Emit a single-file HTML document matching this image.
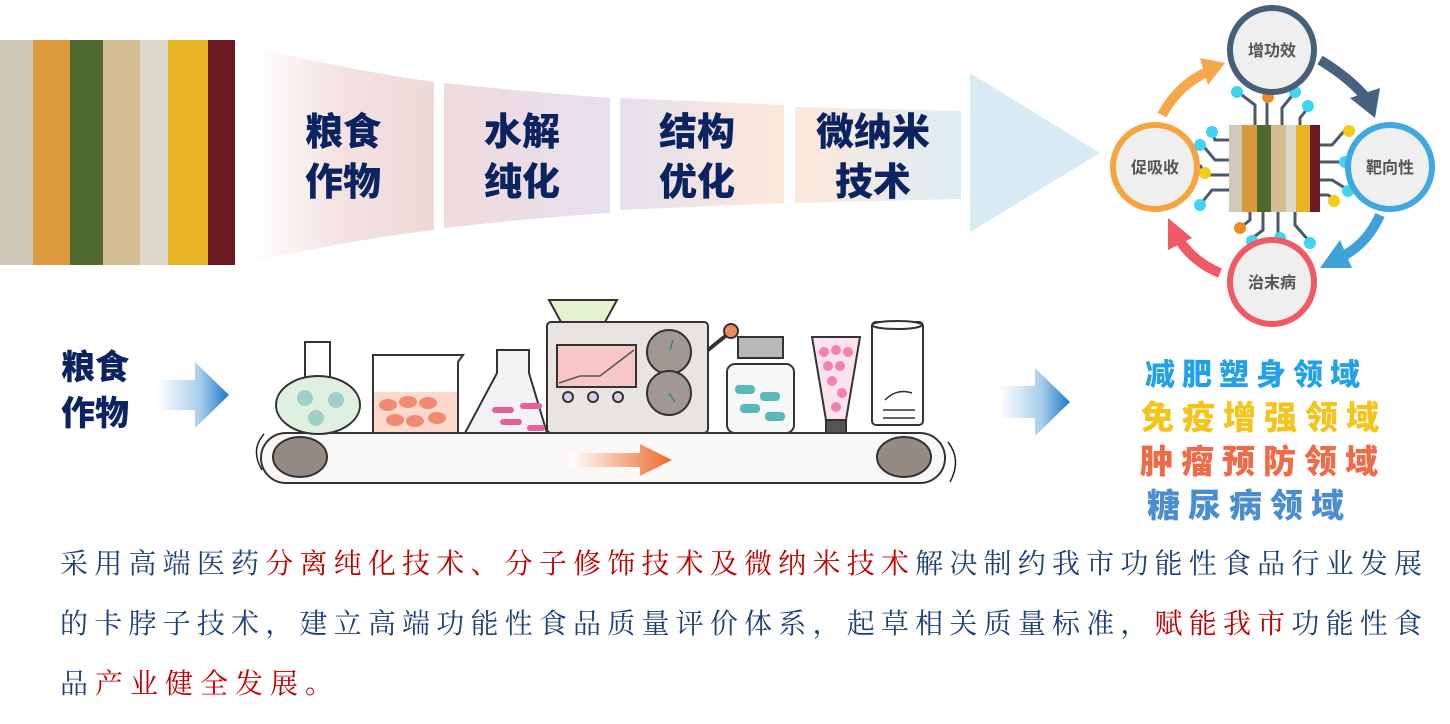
<!DOCTYPE html>
<html><head><meta charset="utf-8"><style>
body{margin:0;width:1450px;height:724px;background:#fff;overflow:hidden;position:relative;font-family:"Liberation Sans","Noto Sans CJK SC",sans-serif}
.ab{position:absolute}
.band{font-family:"Liberation Sans","Noto Sans CJK SC",sans-serif;font-weight:900;color:#0b2360;font-size:38px;line-height:50px;text-align:center;position:absolute}
.para{position:absolute;left:60px;width:1362px;font-family:"Liberation Serif","Noto Serif CJK SC",serif;font-size:28px;color:#1d3f78;text-align:justify;text-align-last:justify;white-space:nowrap;line-height:40px}
.r{color:#c00000}
.fld{position:absolute;font-weight:900;font-family:"Liberation Sans","Noto Sans CJK SC",sans-serif;white-space:nowrap}
</style></head><body>
<svg class="ab" style="left:0;top:0" width="1450" height="724">
<defs>
<linearGradient id="s1" x1="0" x2="1"><stop offset="0" stop-color="#fff"/><stop offset=".5" stop-color="#f4e2e2"/><stop offset="1" stop-color="#eed8d8"/></linearGradient>
<linearGradient id="s2" x1="0" x2="1"><stop offset="0" stop-color="#f0dadc"/><stop offset="1" stop-color="#e6e0ee"/></linearGradient>
<linearGradient id="s3" x1="0" x2="1"><stop offset="0" stop-color="#e4e0ee"/><stop offset="1" stop-color="#fde8da"/></linearGradient>
<linearGradient id="s4" x1="0" x2="1"><stop offset="0" stop-color="#fde8da"/><stop offset="1" stop-color="#dcecf4"/></linearGradient>
<linearGradient id="ar2" x1="0" x2="1"><stop offset="0" stop-color="#fff"/><stop offset=".6" stop-color="#a8cdea"/><stop offset="1" stop-color="#1a78c8"/></linearGradient>
<linearGradient id="oa2" x1="0" x2="1"><stop offset="0" stop-color="#fff"/><stop offset="1" stop-color="#ec6a2a"/></linearGradient>
</defs>
<!-- grains -->
<rect x="0" y="40" width="33" height="225" fill="#cfc7b8"/>
<rect x="33" y="40" width="37" height="225" fill="#dc9a3e"/>
<rect x="70" y="40" width="33" height="225" fill="#4e6a2e"/>
<rect x="103" y="40" width="37" height="225" fill="#d4bf94"/>
<rect x="140" y="40" width="28" height="225" fill="#ddd8cc"/>
<rect x="168" y="40" width="40" height="225" fill="#e6b424"/>
<rect x="208" y="40" width="27" height="225" fill="#6c1a22"/>
<!-- bands -->
<path d="M250 47 Q350 70 434 82 L434 230 Q350 240 250 262Z" fill="url(#s1)"/>
<path d="M444 83 Q530 92 610 98 L610 213 Q530 218 444 228Z" fill="url(#s2)"/>
<path d="M620 98 L784 105 L784 203 L620 210Z" fill="url(#s3)"/>
<path d="M795 107 L961 111 L961 199 L795 203Z" fill="url(#s4)"/>
<path d="M970 73 L1100 153 L970 232Z" fill="#d8eaf3"/>

<!-- conveyor row -->
<path d="M157 380 L195 380 L195 362 L229 395 L195 428 L195 410 L157 410Z" fill="url(#ar2)"/>
<path d="M999 386 L1035 386 L1035 368 L1070 402 L1035 436 L1035 418 L999 418Z" fill="url(#ar2)"/>
<g stroke="#333" stroke-width="2">
<rect x="261" y="433" width="684" height="50" rx="25" fill="#f9f8f7"/>
<ellipse cx="300" cy="457" rx="27" ry="20" fill="#958b85"/><ellipse cx="904" cy="457" rx="27" ry="20" fill="#958b85"/>
<!-- round flask -->
<rect x="305" y="342" width="25" height="40" fill="#fff"/>
<ellipse cx="318" cy="405" rx="42" ry="29" fill="#e0f0e0"/>
<!-- beaker -->
<path d="M373 355 L463 355 L458 362 L458 433 L373 433Z" fill="#fff"/>
<!-- erlenmeyer -->
<path d="M497 350 L529 350 L529 373 L547 433 L465 433 L497 373Z" fill="#f4f2f4"/>
<!-- machine -->
<path d="M549 300 L617 300 L605 322 L561 322Z" fill="#e4f2d0"/>
<rect x="547" y="322" width="161" height="111" rx="4" fill="#e8e4e2"/>
<rect x="557" y="345" width="79" height="42" fill="#f8c8c8"/>
<circle cx="669" cy="352" r="22" fill="#a29893"/>
<circle cx="669" cy="393" r="22" fill="#a29893"/>
<circle cx="568" cy="397" r="5" fill="#d8d0e8"/><circle cx="593" cy="397" r="5" fill="#d8d0e8"/><circle cx="618" cy="397" r="5" fill="#d8d0e8"/>
<path d="M708 350 L728 334" stroke-width="4"/>
<circle cx="731" cy="331" r="7" fill="#f08860"/>
<!-- bottle -->
<rect x="738" y="337" width="45" height="21" fill="#b8b8b8"/>
<rect x="727" y="364" width="67" height="69" rx="8" fill="#f6f8f8"/>
<!-- tube -->
<path d="M812 337 L860 337 L846 420 L826 420Z" fill="#fbe2ec"/>
<rect x="826" y="420" width="20" height="13" fill="#555"/>
<!-- jar -->
<rect x="872" y="322" width="51" height="103" rx="4" fill="#fff"/>
<ellipse cx="897" cy="325" rx="25" ry="4" fill="#fff"/>
</g>
<rect x="374" y="392" width="83" height="40" fill="#fdd8cc"/>
<g fill="#f08a70"><ellipse cx="388" cy="405" rx="9" ry="6"/><ellipse cx="408" cy="402" rx="9" ry="6"/><ellipse cx="428" cy="403" rx="9" ry="6"/><ellipse cx="395" cy="420" rx="9" ry="6"/><ellipse cx="415" cy="421" rx="9" ry="6"/><ellipse cx="437" cy="418" rx="9" ry="6"/></g>
<g fill="#9fd0c8"><circle cx="305" cy="398" r="8"/><circle cx="336" cy="400" r="8"/><circle cx="316" cy="418" r="8"/></g>
<g fill="#e8609a"><rect x="492" y="407" width="22" height="6" rx="3"/><rect x="520" y="403" width="22" height="6" rx="3"/><rect x="500" y="419" width="22" height="6" rx="3"/><rect x="527" y="425" width="18" height="6" rx="3"/></g>
<g fill="#5ab8b8"><rect x="735" y="385" width="20" height="9" rx="4"/><rect x="760" y="392" width="20" height="9" rx="4"/><rect x="740" y="404" width="20" height="9" rx="4"/><rect x="765" y="412" width="20" height="9" rx="4"/></g>
<g fill="#f480b0"><circle cx="824" cy="352" r="5"/><circle cx="836" cy="350" r="5"/><circle cx="848" cy="352" r="5"/><circle cx="828" cy="366" r="5"/><circle cx="840" cy="366" r="5"/><circle cx="832" cy="381" r="5"/><circle cx="842" cy="393" r="5"/><circle cx="836" cy="407" r="5"/></g>
<path d="M559 383 L580 376 L600 376 L634 350" stroke="#555" stroke-width="1.5" fill="none"/>
<path d="M670 350 L673 340 M669 393 L675 402" stroke="#2a8a8a" stroke-width="1.5"/>
<path d="M885 400 Q897 388 912 393 M883 410 L915 410 M883 418 L915 418" stroke="#333" stroke-width="1.5" fill="none"/>
<path d="M570 453 L640 453 L640 444 L672 460 L640 476 L640 467 L570 467Z" fill="url(#oa2)"/>
<path d="M262 470 Q250 450 264 434" stroke="#222" stroke-width="1.5" fill="none"/>
<path d="M948 442 Q962 460 950 482" stroke="#222" stroke-width="1.5" fill="none"/>
</svg>
<div class="band" style="left:288px;top:108px;width:110px">粮食<br>作物</div>
<div class="band" style="left:467px;top:108px;width:110px">水解<br>纯化</div>
<div class="band" style="left:642px;top:108px;width:110px">结构<br>优化</div>
<div class="band" style="left:803px;top:108px;width:140px">微纳米<br>技术</div>

<!-- cycle diagram -->
<svg class="ab" style="left:1100px;top:0" width="350" height="330">
<g stroke="#4a5a66" stroke-width="3" fill="none">
<path d="M130 175 L105 175 L100 165"/><path d="M130 160 L115 160 L105 148 L100 145"/><path d="M130 190 L112 190 L100 205"/><path d="M130 140 L115 140 L112 132"/>
<path d="M220 145 L232 145 L245 130"/><path d="M220 162 L245 162"/><path d="M220 180 L232 180 L245 188"/><path d="M220 195 L228 195 L235 200"/>
<path d="M155 125 L155 105 L138 92"/><path d="M167 125 L167 97"/><path d="M182 125 L182 108 L195 92"/><path d="M200 125 L200 118 L208 108"/>
<path d="M150 212 L150 220 L140 228"/><path d="M163 212 L163 230 L150 240"/><path d="M178 212 L178 235"/><path d="M195 212 L195 225 L210 242"/>
</g>
<g fill="#3ed4f2"><circle cx="137" cy="92" r="6"/><circle cx="195" cy="92" r="6"/><circle cx="208" cy="106" r="6"/><circle cx="112" cy="132" r="6"/><circle cx="100" cy="145" r="6"/><circle cx="100" cy="205" r="6"/><circle cx="245" cy="162" r="6"/><circle cx="248" cy="191" r="6"/><circle cx="152" cy="241" r="6"/><circle cx="180" cy="238" r="6"/><circle cx="210" cy="243" r="6"/></g>
<g fill="#f4cc14"><circle cx="105" cy="173" r="6"/><circle cx="249" cy="131" r="6"/><circle cx="234" cy="201" r="6"/></g>
<g fill="#ef8a22"><circle cx="168" cy="97" r="6"/><circle cx="140" cy="228" r="6"/></g>
<rect x="129" y="125" width="13" height="87" fill="#d0c8b8"/><rect x="142" y="125" width="15" height="87" fill="#d89a3c"/><rect x="157" y="125" width="14" height="87" fill="#506a2e"/><rect x="171" y="125" width="15" height="87" fill="#d2bd92"/><rect x="186" y="125" width="10" height="87" fill="#ddd8cc"/><rect x="196" y="125" width="14" height="87" fill="#e6b424"/><rect x="210" y="125" width="10" height="87" fill="#6c1a22"/>
<path d="M62 115 Q80 82 112 70" stroke="#f5a74a" stroke-width="10" fill="none"/><path d="M100 58 L125 63 L108 85Z" fill="#f5a74a"/>
<path d="M220 60 Q250 78 268 100" stroke="#47627e" stroke-width="10" fill="none"/><path d="M250 98 L275 118 L280 88Z" fill="#47627e"/>
<path d="M280 215 Q268 242 245 255" stroke="#3ea2d8" stroke-width="10" fill="none"/><path d="M240 240 L220 268 L252 268Z" fill="#3ea2d8"/>
<path d="M120 273 Q93 262 78 238" stroke="#ee5a66" stroke-width="10" fill="none"/><path d="M68 218 L68 250 L92 238Z" fill="#ee5a66"/>
<g stroke-width="6" fill="#efefef">
<circle cx="172" cy="50" r="42" stroke="#46607a"/>
<circle cx="290" cy="167" r="42" stroke="#40a8e0"/>
<circle cx="172" cy="282" r="42" stroke="#ee5a66"/>
<circle cx="55" cy="167" r="42" stroke="#f5a440"/>
</g>
<g font-family="Liberation Sans,Noto Sans CJK SC,sans-serif" font-weight="700" font-size="16" fill="#555" text-anchor="middle">
<text x="172" y="56">增功效</text><text x="290" y="173">靶向性</text><text x="172" y="288">治末病</text><text x="55" y="173">促吸收</text>
</g>
</svg>

<div class="band" style="left:45px;top:345px;width:100px;font-size:34px;line-height:46px">粮食<br>作物</div>

<div class="fld" style="left:1145px;top:350px;font-size:30px;color:#22a0e8;letter-spacing:7px">减肥塑身领域</div>
<div class="fld" style="left:1141px;top:391px;font-size:33px;color:#f4c41a;letter-spacing:8px">免疫增强领域</div>
<div class="fld" style="left:1140px;top:435px;font-size:33px;color:#f06a48;letter-spacing:8px">肿瘤预防领域</div>
<div class="fld" style="left:1147px;top:479px;font-size:33px;color:#4a8ed0;letter-spacing:8px">糖尿病领域</div>

<div class="para" style="top:545px">采用高端医药<span class="r">分离纯化技术、分子修饰技术及微纳米技术</span>解决制约我市功能性食品行业发展</div>
<div class="para" style="top:605px">的卡脖子技术，建立高端功能性食品质量评价体系，起草相关质量标准，<span class="r">赋能我市</span>功能性食</div>
<div class="para" style="top:665px;text-align-last:left;letter-spacing:7px">品<span class="r">产业健全发展。</span></div>
</body></html>
